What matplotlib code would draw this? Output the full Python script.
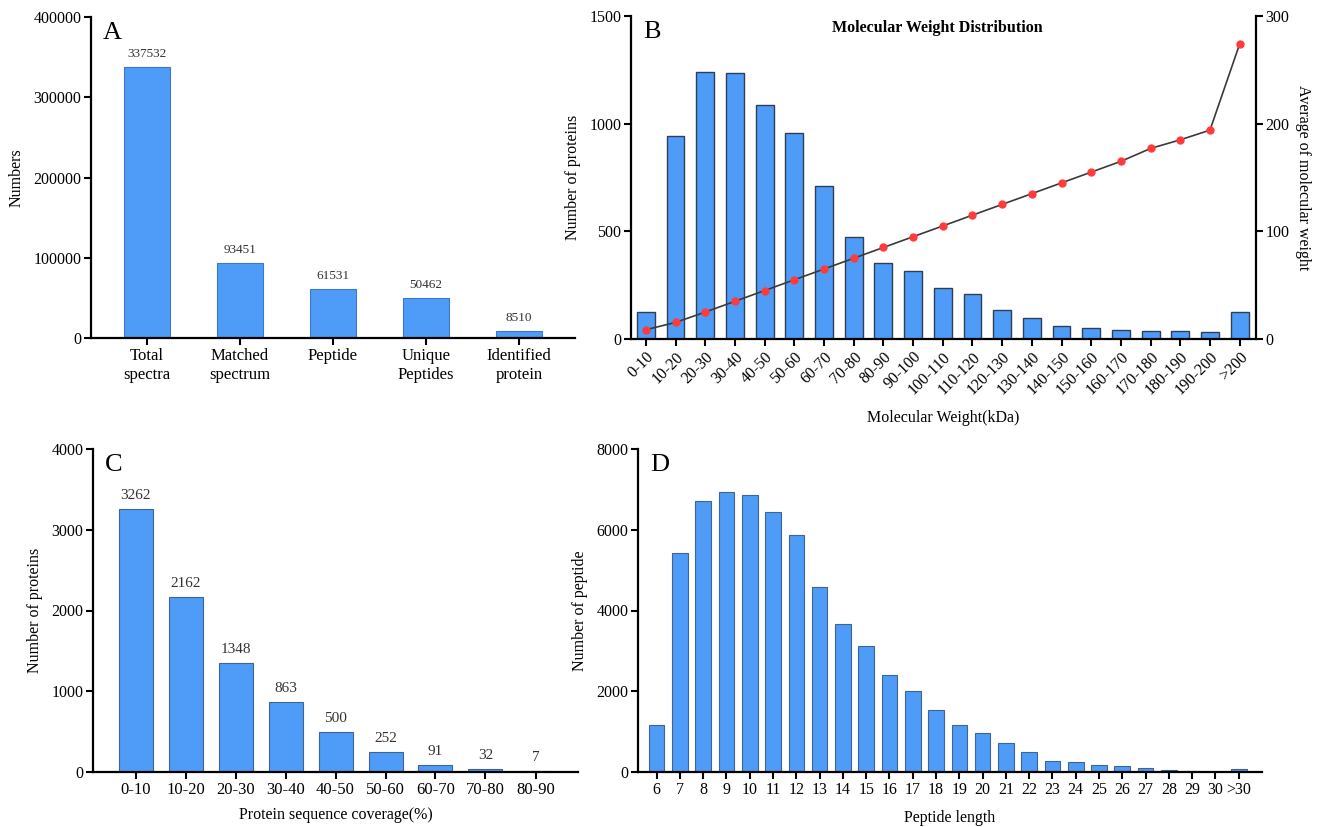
import matplotlib
matplotlib.use("Agg")
import matplotlib.pyplot as plt
import numpy as np

plt.rcParams['font.family'] = ['Liberation Serif', 'DejaVu Serif']

# Panel A
a_labels = ["Total\nspectra", "Matched\nspectrum", "Peptide", "Unique\nPeptides", "Identified\nprotein"]
a_values = [337532, 93451, 61531, 50462, 8510]

# Panel B
b_labels = ["0-10", "10-20", "20-30", "30-40", "40-50", "50-60", "60-70", "70-80", "80-90",
            "90-100", "100-110", "110-120", "120-130", "130-140", "140-150", "150-160",
            "160-170", "170-180", "180-190", "190-200", ">200"]
b_counts = [124, 943, 1241, 1235, 1087, 958, 709, 473, 352, 316, 235, 210, 136, 97,
            59, 49, 42, 36, 36, 32, 124]
b_avg_mw = [8.6, 15.4, 25, 35, 45, 55, 65, 75, 85, 95, 105, 115, 125, 135, 145, 155,
            165, 177, 185, 194, 274]

# Panel C
c_labels = ["0-10", "10-20", "20-30", "30-40", "40-50", "50-60", "60-70", "70-80", "80-90"]
c_values = [3262, 2162, 1348, 863, 500, 252, 91, 32, 7]

# Panel D
d_labels = [str(i) for i in range(6, 31)] + [">30"]
d_values = [1155, 5419, 6705, 6928, 6870, 6441, 5880, 4577, 3678, 3126, 2392, 2004,
            1526, 1163, 957, 709, 487, 264, 256, 181, 140, 99, 41, 33, 5, 74]

W, H = 1325, 827
BAR = '#4f9cf8'


def rect(l, r, t, b):
    return [l / W, 1 - b / H, (r - l) / W, (b - t) / H]


def style(ax, right=False):
    for s in ['top'] + ([] if right else ['right']):
        ax.spines[s].set_visible(False)
    for s in ax.spines.values():
        s.set_linewidth(1.6)
    ax.tick_params(width=1.5, length=5, labelsize=11.5, pad=2)


fig = plt.figure(figsize=(W / 100, H / 100), dpi=100)

# ---- A
ax = fig.add_axes(rect(91, 575, 17, 338))
x = np.arange(len(a_values))
ax.bar(x, a_values, width=0.5, color=BAR, edgecolor='#3c78c8', linewidth=0.8)
for xi, v in zip(x, a_values):
    ax.annotate(str(v), (xi, v), xytext=(0, 5), textcoords='offset points',
                ha='center', va='bottom', fontsize=9.5, color='#333333')
ax.set_xlim(-0.6, 4.6)
ax.set_ylim(0, 400000)
ax.set_yticks(range(0, 400001, 100000))
ax.set_xticks(x)
ax.set_xticklabels(a_labels, linespacing=1.3)
ax.set_ylabel("Numbers", fontsize=11.5, labelpad=6)
style(ax)
ax.tick_params(axis='x', labelsize=12)
ax.text(0.025, 0.985, "A", transform=ax.transAxes, fontsize=19, va='top')

# ---- B
ax = fig.add_axes(rect(631, 1256, 16, 339))
x = np.arange(len(b_counts))
ax.bar(x, b_counts, width=0.6, color=BAR, edgecolor='#2d3f55', linewidth=1.0)
ax.set_xlim(-0.5, 20.55)
ax.set_ylim(0, 1500)
ax.set_yticks([0, 500, 1000, 1500])
ax.set_xticks(x)
ax.set_xticklabels(b_labels, rotation=45, ha='right', rotation_mode='anchor')
ax.set_xlabel("Molecular Weight(kDa)", fontsize=11.5, labelpad=9)
ax.set_ylabel("Number of proteins", fontsize=11.5, labelpad=6)
style(ax, right=True)
ax.spines['right'].set_visible(False)
ax.text(0.02, 0.985, "B", transform=ax.transAxes, fontsize=19, va='top')
ax.set_title("Molecular Weight Distribution", fontsize=11.5, fontweight='bold',
             y=0.925, x=0.49)
ax2 = ax.twinx()
ax2.plot(x, b_avg_mw, color='#3a3a3a', linewidth=1.2, marker='o', markersize=5,
         markerfacecolor='#ff3b3b', markeredgecolor='#ff3b3b', zorder=5)
ax2.set_ylim(0, 300)
ax2.set_yticks([0, 100, 200, 300])
ax2.set_ylabel("Average of molecular weight", fontsize=11.5, rotation=270, labelpad=15)
style(ax2, right=True)
ax2.spines['left'].set_visible(False)
ax2.spines['bottom'].set_visible(False)

# ---- C
ax = fig.add_axes(rect(93, 578, 449, 772))
x = np.arange(len(c_values))
ax.bar(x, c_values, width=0.68, color=BAR, edgecolor='#3d6594', linewidth=0.8)
for xi, v in zip(x, c_values):
    ax.annotate(str(v), (xi, v), xytext=(0, 5), textcoords='offset points',
                ha='center', va='bottom', fontsize=11, color='#333333')
ax.set_xlim(-0.85, 8.85)
ax.set_ylim(0, 4000)
ax.set_yticks(range(0, 4001, 1000))
ax.set_xticks(x)
ax.set_xticklabels(c_labels)
ax.set_xlabel("Protein sequence coverage(%)", fontsize=11.5, labelpad=7)
ax.set_ylabel("Number of proteins", fontsize=11.5, labelpad=6)
style(ax)
ax.tick_params(axis='x', labelsize=12)
ax.text(0.025, 0.985, "C", transform=ax.transAxes, fontsize=19, va='top')

# ---- D
ax = fig.add_axes(rect(638, 1262, 449, 772))
x = np.arange(len(d_values))
ax.bar(x, d_values, width=0.67, color=BAR, edgecolor='#3d6594', linewidth=0.8)
ax.set_xlim(-0.8, 26.0)
ax.set_ylim(0, 8000)
ax.set_yticks(range(0, 8001, 2000))
ax.set_xticks(x)
ax.set_xticklabels(d_labels)
ax.set_xlabel("Peptide length", fontsize=11.5, labelpad=9)
ax.set_ylabel("Number of peptide", fontsize=11.5, labelpad=6)
style(ax)
ax.text(0.02, 0.985, "D", transform=ax.transAxes, fontsize=19, va='top')

fig.savefig("out.png", dpi=100)
